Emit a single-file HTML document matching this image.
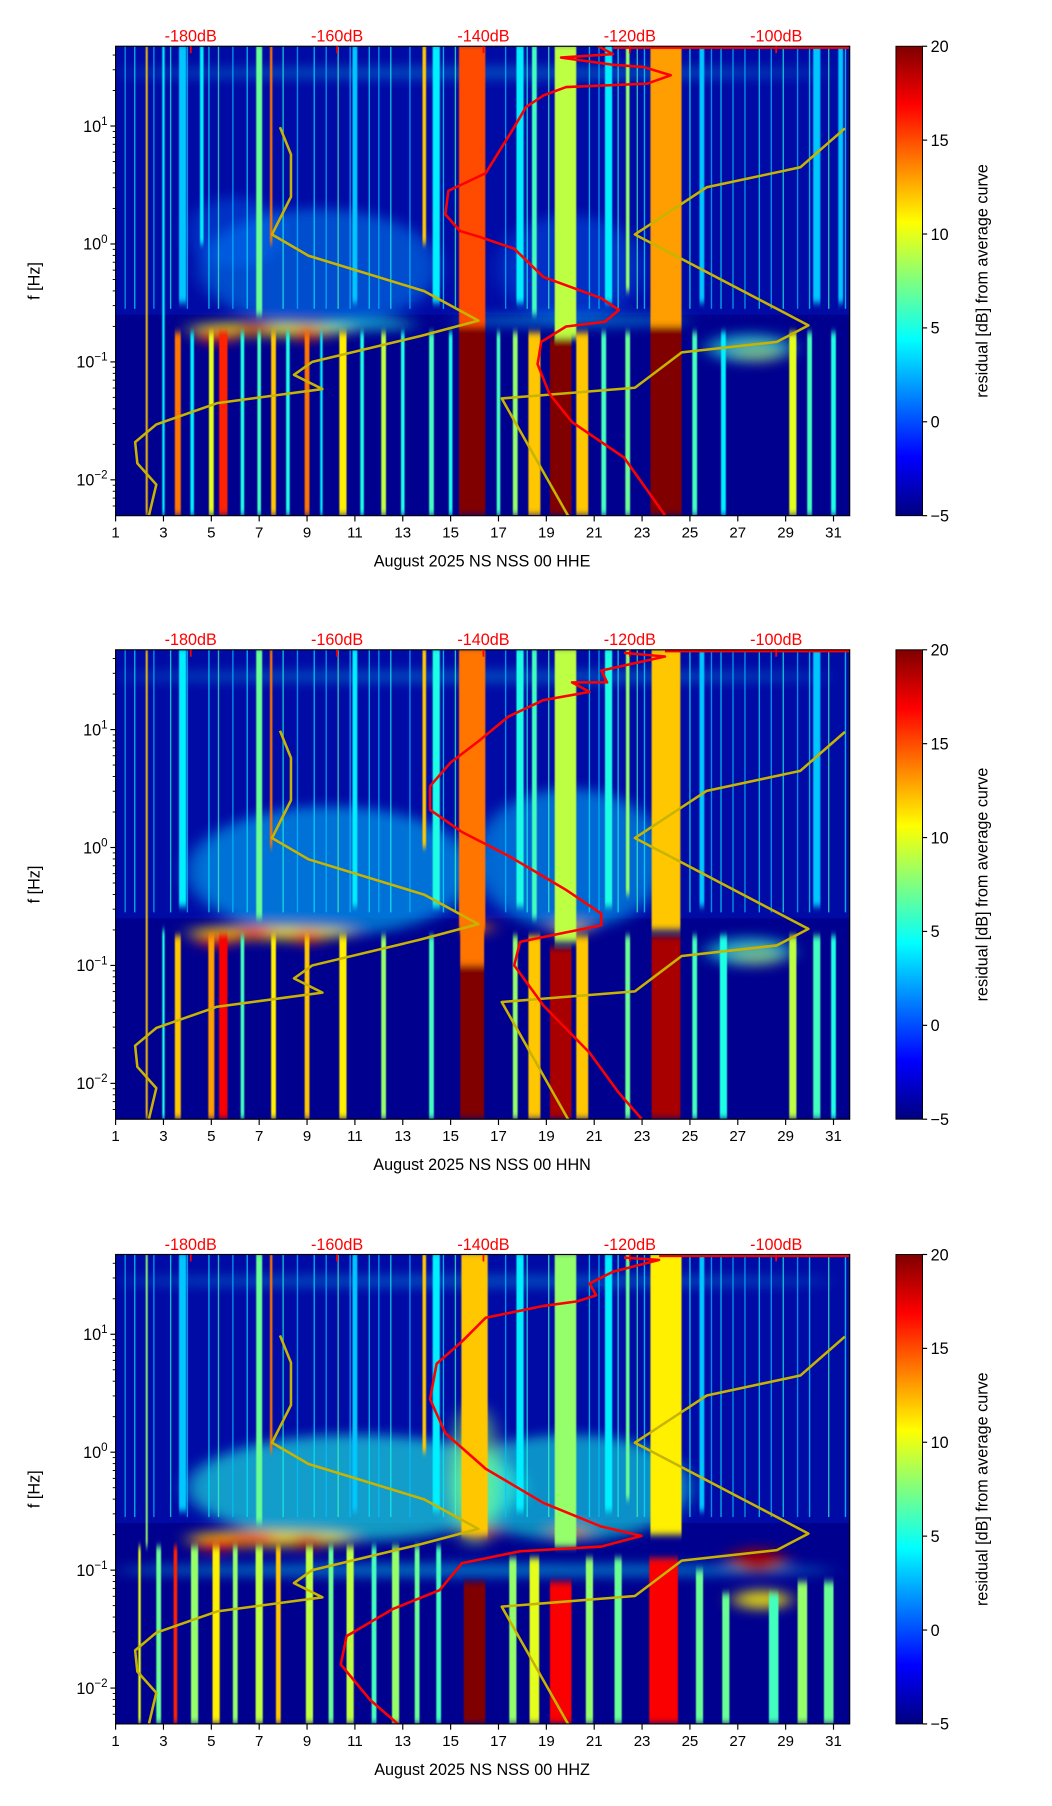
<!DOCTYPE html>
<html><head><meta charset="utf-8">
<style>
html,body{margin:0;padding:0;background:#fff;}
svg{display:block;font-family:"Liberation Sans","DejaVu Sans",sans-serif;}
</style></head>
<body>
<svg id="fig" xmlns="http://www.w3.org/2000/svg" width="1052" height="1806" viewBox="0 0 910 1562" preserveAspectRatio="none">
<defs>
<filter id="blurS" x="-20%" y="-20%" width="140%" height="140%"><feGaussianBlur stdDeviation="0.5 3"/></filter>
<filter id="blurB" x="-50%" y="-50%" width="200%" height="200%"><feGaussianBlur stdDeviation="8 5"/></filter>
<linearGradient id="jet" x1="0" y1="1" x2="0" y2="0">
<stop offset="0" stop-color="#00007f"/><stop offset="0.125" stop-color="#0000ff"/>
<stop offset="0.375" stop-color="#00ffff"/><stop offset="0.625" stop-color="#ffff00"/>
<stop offset="0.875" stop-color="#ff0000"/><stop offset="1" stop-color="#7f0000"/>
</linearGradient>
<clipPath id="c0"><rect x="100" y="40" width="635" height="406"/></clipPath>
<clipPath id="c1"><rect x="100" y="562" width="635" height="406"/></clipPath>
<clipPath id="c2"><rect x="100" y="1085" width="635" height="406"/></clipPath>
</defs>
</svg>
<script>
// ---- data ----
const panelTops = [40, 562, 1085];
const channelNames = ["HHE", "HHN", "HHZ"];
const dayTicks = [1,3,5,7,9,11,13,15,17,19,21,23,25,27,29,31];
const dbTicks = [-180,-160,-140,-120,-100];
const cbTicks = [20,15,10,5,0,-5];
const yMajor = [1,0,-1,-2];
// thin broadband lines in upper band (day, residual)
const thinLineDays = [1.4,1.8,2.6,3.3,4.0,4.9,5.3,5.9,6.5,8.0,8.6,9.3,9.8,10.3,10.8,11.6,12.0,12.5,13.3,14.7,15.2,17.3,18.2,19.1,20.8,21.2,22.0,22.8,23.1,25.0,25.9,26.3,26.8,27.3,27.9,28.4,28.9,29.5,30.0,30.8,31.5];
const thinLineVals = [3,4,3,5,3,4,6,3,4,5,3,4,3,6,3,4,3,5,3,4,6,3,5,6,4,3,5,6,4,5,3,4,3,3,4,3,5,3,4,6,4];
// Noise models (dB, log10 f)
const nlnmDb = [-167.8,-166.3,-166.3,-168.9,-163.9,-148.1,-140.7,-148.6,-163.4,-165.9,-162.0,-176.4,-184.7,-187.6,-187.3,-184.7,-185.7];
const nlnmLogF = [0.99,0.76,0.40,0.08,-0.10,-0.40,-0.65,-0.78,-1.00,-1.11,-1.23,-1.35,-1.53,-1.68,-1.86,-2.04,-2.30];
const nhnmDb = [-90.6,-96.7,-109.5,-119.3,-95.6,-99.9,-112.9,-119.3,-137.5,-128.2];
const nhnmLogF = [0.98,0.65,0.48,0.08,-0.69,-0.83,-0.92,-1.22,-1.31,-2.33];
// Average PSD curves per channel
const psdDbE = [-124.4,-122.3,-129.4,-122.3,-118.1,-114.4,-117.6,-128.7,-131.8,-134.2,-135.8,-137.8,-139.7,-144.8,-145.2,-143.2,-140.5,-135.8,-131.8,-123.9,-121.5,-123.4,-128.7,-132.1,-132.6,-131.0,-127.9,-120.8,-115.2];
const psdLogFE = [1.68,1.61,1.58,1.52,1.50,1.43,1.36,1.33,1.26,1.16,0.99,0.79,0.60,0.45,0.25,0.11,0.06,-0.04,-0.28,-0.46,-0.56,-0.66,-0.70,-0.83,-1.02,-1.27,-1.51,-1.81,-2.30];
const psdDbN = [-120.8,-115.2,-123.9,-123.1,-127.9,-125.5,-131.8,-136.6,-140.5,-144.5,-147.3,-147.3,-142.9,-136.6,-128.7,-123.9,-123.9,-128.7,-135.0,-135.8,-131.8,-125.5,-121.5,-118.4];
const psdLogFN = [1.65,1.62,1.50,1.40,1.40,1.32,1.25,1.11,0.91,0.72,0.52,0.32,0.13,-0.07,-0.36,-0.56,-0.66,-0.72,-0.80,-1.00,-1.34,-1.74,-2.08,-2.30];
const psdDbZ = [-120.8,-116.0,-122.3,-125.5,-124.6,-127.1,-131.8,-139.7,-142.9,-146.4,-147.3,-145.2,-139.7,-131.8,-123.9,-118.4,-123.9,-135.0,-142.9,-146.0,-152.4,-158.7,-159.5,-155.5,-151.6];
const psdLogFZ = [1.65,1.63,1.53,1.43,1.33,1.28,1.24,1.14,0.94,0.75,0.45,0.16,-0.14,-0.43,-0.63,-0.71,-0.80,-0.84,-0.94,-1.17,-1.33,-1.56,-1.80,-2.10,-2.31];
// Spectrogram stripes: [day, widthDays, logF low, logF high, residual dB]
const stripesE = [[3.6,.25,-2.3,-.75,14],[4.2,.15,-2.3,-.75,4],[5.0,.2,-2.3,-.75,10],[5.5,.35,-2.3,-.75,16],[6.3,.15,-2.3,-.75,5],[7.0,.15,-2.3,-.75,6],[7.6,.2,-2.3,-.75,12],[8.2,.15,-2.3,-.75,5],[9.0,.2,-2.3,-.75,14],[9.6,.1,-2.3,-.75,4],[10.5,.3,-2.3,-.75,11],[11.3,.15,-2.3,-.75,5],[12.2,.2,-2.3,-.75,9],[13.0,.15,-2.3,-.75,5],[14.2,.2,-2.3,-.75,6],[15.0,.15,-2.3,-.75,5],[15.9,1.1,-2.3,-.7,22],[17.0,.15,-2.3,-.75,6],[17.7,.2,-2.3,-.75,8],[18.5,.5,-2.3,-.75,12],[19.6,.9,-2.3,-.8,20],[20.5,.5,-2.3,-.75,12],[21.4,.2,-2.3,-.75,6],[22.4,.2,-2.3,-.75,7],[24.0,1.3,-2.3,-.7,21],[25.2,.2,-2.3,-.75,6],[26.4,.2,-2.3,-.75,4],[29.3,.3,-2.3,-.75,10],[30.0,.2,-2.3,-.75,6],[31.0,.2,-2.3,-.75,5],[2.3,.08,-2.3,1.7,12],[3.0,.1,-2.3,1.7,4],
[15.9,1.1,-.7,1.7,15],[19.8,.9,-.8,1.7,9],[24.0,1.3,-.7,1.7,13],[7.0,.25,-.6,1.7,7],[7.5,.1,0,1.7,14],[3.8,.3,-.5,1.7,3],[4.6,.15,0,1.7,4],[11.0,.2,-.5,1.7,3],[13.9,.15,0,1.7,12],[14.4,.3,-.5,1.7,4],[17.9,.3,-.5,1.7,4],[18.5,.2,-.6,1.7,6],[21.6,.3,-.5,1.7,4],[22.4,.15,-.4,1.7,8],[25.5,.2,-.5,1.7,3],[30.3,.3,-.5,1.7,3],[31.3,.2,-.5,1.7,3]];
const stripesN = [[3.6,.25,-2.3,-.75,12],[5.0,.25,-2.3,-.75,13],[5.5,.35,-2.3,-.75,17],[6.3,.15,-2.3,-.75,6],[7.6,.2,-2.3,-.75,11],[9.0,.2,-2.3,-.75,12],[10.5,.3,-2.3,-.75,11],[12.2,.2,-2.3,-.75,8],[14.2,.2,-2.3,-.75,6],[15.9,1.0,-2.3,-1.0,22],[15.9,1.0,-1.0,-.7,14],[17.7,.2,-2.3,-.75,8],[18.5,.5,-2.3,-.75,12],[19.6,.9,-2.3,-.85,19],[20.5,.5,-2.3,-.75,12],[22.4,.2,-2.3,-.75,7],[24.0,1.2,-2.3,-.75,19],[25.2,.2,-2.3,-.75,6],[26.4,.3,-2.3,-.75,5],[29.3,.3,-2.3,-.75,9],[30.3,.3,-2.3,-.75,6],[31.0,.2,-2.3,-.75,5],[2.3,.08,-2.3,1.7,12],[3.0,.1,-2.3,-.7,5],
[15.9,1.1,-.7,1.7,14],[19.8,.9,-.8,1.7,9],[24.0,1.2,-.7,1.7,12],[7.0,.25,-.6,1.7,7],[7.5,.1,0,1.7,14],[3.8,.3,-.5,1.7,4],[11.0,.2,-.5,1.7,4],[13.9,.15,0,1.7,12],[14.4,.3,-.5,1.7,5],[17.9,.3,-.5,1.7,5],[18.5,.2,-.6,1.7,6],[21.6,.3,-.5,1.7,5],[22.4,.15,-.4,1.7,8],[25.5,.2,-.5,1.7,3],[30.3,.3,-.5,1.7,3]];
const stripesZ = [[2.0,.1,-2.3,-.8,10],[2.8,.2,-2.3,-.8,7],[3.5,.15,-2.3,-.8,16],[4.3,.3,-2.3,-.8,8],[5.2,.3,-2.3,-.8,11],[6.0,.2,-2.3,-.8,8],[7.0,.3,-2.3,-.8,9],[7.8,.2,-2.3,-.8,12],[9.1,.3,-2.3,-.8,9],[10.0,.2,-2.3,-.8,7],[10.8,.3,-2.3,-.8,9],[11.8,.2,-2.3,-.8,6],[12.7,.3,-2.3,-.8,8],[13.6,.2,-2.3,-.8,7],[14.5,.2,-2.3,-.8,6],[16.0,.9,-2.3,-1.1,20],[17.6,.3,-2.3,-.9,8],[18.5,.4,-2.3,-.9,10],[19.6,.9,-2.3,-1.1,17],[20.8,.3,-2.3,-.9,8],[22.0,.3,-2.3,-.9,7],[23.9,1.2,-2.3,-.9,17],[25.4,.3,-2.3,-1.0,7],[26.5,.3,-2.3,-1.2,7],[28.5,.4,-2.3,-1.2,6],[29.7,.4,-2.3,-1.1,8],[30.8,.4,-2.3,-1.1,7],[2.3,.08,-.8,1.7,8],
[16.0,1.1,-.7,1.7,12],[19.8,.9,-.8,1.7,8],[24.0,1.3,-.7,1.7,11],[7.0,.25,-.6,1.7,7],[7.5,.1,0,1.7,14],[3.8,.3,-.5,1.7,3],[11.0,.2,-.5,1.7,3],[13.9,.15,0,1.7,12],[14.4,.3,-.5,1.7,4],[17.9,.3,-.5,1.7,4],[21.6,.3,-.5,1.7,4],[22.4,.15,-.4,1.7,7],[25.5,.2,-.5,1.7,3]];
// Diffuse patches: [day, logF, rxDays, ryDecades, residual dB, opacity]
const blobsE = [[9.5,-.2,5,.5,2,.45],[20,-.2,3,.45,1,.35],[6,.1,2,.3,1,.35],[7.5,-.72,3.5,.06,10,.85],[5.2,-.78,.8,.06,16,.9],[6.8,-.72,.8,.05,18,.9],[9.0,-.76,.6,.06,17,.9],[11.5,-.68,2,.05,5,.6],[27.8,-.92,1.1,.08,15,.9],[27.5,-.88,1.8,.12,5,.6],[20,-.65,5,.05,3,.5],[16,1.45,15,.04,4,.35]];
const blobsN = [[10,-.2,6,.55,3,.55],[20,-.1,4,.6,3,.5],[7.5,-.72,3.5,.06,11,.85],[5.2,-.78,.8,.06,16,.9],[6.8,-.72,.8,.05,17,.9],[9.0,-.76,.6,.06,16,.9],[16.2,-.68,.5,.05,14,.8],[20,-.68,.8,.05,12,.8],[27.8,-.92,1.1,.08,15,.9],[27.5,-.88,1.8,.12,5,.6],[16,1.45,15,.04,4,.35]];
const blobsZ = [[11,-.3,7,.45,5,.6],[20,-.3,5,.45,5,.55],[16,-.2,1,.6,8,.6],[7.5,-.73,3.5,.07,11,.85],[5.2,-.78,.9,.06,17,.9],[6.8,-.73,1.0,.05,17,.9],[9.0,-.76,.7,.06,18,.9],[16.3,-.68,.6,.05,15,.8],[20,-.68,.8,.05,14,.8],[16,-1.0,15,.05,4,.5],[27.8,-.92,1.2,.1,19,.95],[28,-1.25,1.2,.08,11,.85],[16,1.45,15,.04,4,.35]];
const stripeSets = [stripesE, stripesN, stripesZ];
const blobSets = [blobsE, blobsN, blobsZ];
const psdDbSets = [psdDbE, psdDbN, psdDbZ];
const psdLogFSets = [psdLogFE, psdLogFN, psdLogFZ];

// ---- helpers ----
const NS = "http://www.w3.org/2000/svg";
const svg = document.getElementById("fig");
const X0 = 100, X1 = 735, PX_DAY = 20.7;
const xDay = d => X0 + (d - 1) * PX_DAY;
const xDb = db => 165 + (db + 180) * 6.33;
const yF = (top, lf) => top + 69 + (1 - lf) * 102;
function jet(v) {
  const t = Math.max(0, Math.min(1, (v + 5) / 25));
  const c = a => Math.round(255 * Math.max(0, Math.min(1, 1.5 - Math.abs(4 * t - a))));
  return `rgb(${c(3)},${c(2)},${c(1)})`;
}
function mk(tag, attrs, parent) {
  const e = document.createElementNS(NS, tag);
  for (const k in attrs) e.setAttribute(k, attrs[k]);
  parent.appendChild(e);
  return e;
}

panelTops.forEach((top, p) => {
  const g = mk("g", {}, svg);
  
  
  const plot = mk("g", {"clip-path": `url(#c${p})`}, g);
  const bg = mk("rect", {x: X0, y: top, width: X1 - X0, height: 406, fill: "#00008f"}, plot);
  
  
  // speckled upper band tint
  const tint = mk("rect", {x: X0, y: top, width: X1 - X0, height: yF(top, -0.6) - top, fill: "#0020d0", opacity: 0.35}, plot);
  
  
  // blobs
  const bl = mk("g", {filter: "url(#blurB)"}, plot);
  blobSets[p].forEach(b => {
    const e = mk("ellipse", {cx: xDay(b[0]), cy: yF(top, b[1]), rx: b[2] * PX_DAY, ry: b[3] * 102, fill: jet(b[4]), opacity: b[5]}, bl);
    
    
  });
  // thin lines
  const tlg = mk("g", {opacity: 0.7}, plot);
  thinLineDays.forEach((d, i) => {
    const r = mk("rect", {x: xDay(d) - 0.6, y: top, width: 1.2, height: yF(top, -0.55) - top, fill: jet(thinLineVals[i])}, tlg);
    
    
  });
  // stripes
  const st = mk("g", {filter: "url(#blurS)"}, plot);
  stripeSets[p].forEach(s => {
    const r = mk("rect", {x: xDay(s[0]) - s[1] * PX_DAY / 2, y: yF(top, s[3]), width: Math.max(1, s[1] * PX_DAY), height: yF(top, s[2]) - yF(top, s[3]), fill: jet(s[4])}, st);
    
    
  });
  // noise models
  [[nlnmDb, nlnmLogF, 'nlnm-curve'], [nhnmDb, nhnmLogF, 'nhnm-curve']].forEach(m => {
    const pts = m[0].map((d, i) => xDb(d).toFixed(1) + "," + yF(top, m[1][i]).toFixed(1)).join(" ");
    const l = mk("polyline", {points: pts, fill: "none", stroke: "#c8b400", "stroke-width": 2.2, "stroke-linejoin": "round"}, plot);
    
    
  });
  // PSD curve
  const pp = psdDbSets[p].map((d, i) => xDb(d).toFixed(1) + "," + yF(top, psdLogFSets[p][i]).toFixed(1)).join(" ");
  const pl = mk("polyline", {points: pp, fill: "none", stroke: "#ff0000", "stroke-width": 2.2, "stroke-linejoin": "round"}, plot);
  
  
  const tl = mk("line", {x1: xDb(psdDbSets[p][1]), y1: top + 1, x2: X1, y2: top + 1, stroke: "#ff0000", "stroke-width": 2.5}, plot);
  
  
  // frame
  const fr = mk("rect", {x: X0, y: top, width: X1 - X0, height: 406, fill: "none", stroke: "#000", "stroke-width": 1}, g);
  
  
  // x ticks
  dayTicks.forEach(d => {
    mk("line", {x1: xDay(d), y1: top + 406, x2: xDay(d), y2: top + 411, stroke: "#000"}, g);
    const t = mk("text", {x: xDay(d), y: top + 425, "font-size": 13, "text-anchor": "middle"}, g);
    t.textContent = d;
    
    
  });
  const xl = mk("text", {x: 417, y: top + 450, "font-size": 14, "text-anchor": "middle"}, g);
  xl.textContent = "August 2025 NS NSS 00 " + channelNames[p];
  
  
  // y ticks
  for (let dec = -3; dec <= 1; dec++) for (let k = 2; k <= 9; k++) {
    const lf = dec + Math.log10(k);
    if (lf < -2.3 || lf > 1.676) continue;
    mk("line", {x1: X0 - 2.5, y1: yF(top, lf), x2: X0, y2: yF(top, lf), stroke: "#000", "stroke-width": 0.8}, g);
  }
  yMajor.forEach(lf => {
    mk("line", {x1: X0 - 4.5, y1: yF(top, lf), x2: X0, y2: yF(top, lf), stroke: "#000"}, g);
    const t = mk("text", {x: X0 - 7, y: yF(top, lf) + 5, "font-size": 14, "text-anchor": "end"}, g);
    const a = mk("tspan", {}, t);
    a.textContent = "10";
    const s = mk("tspan", {dy: -6, "font-size": 10}, t);
    s.textContent = lf < 0 ? "\u2212" + (-lf) : String(lf);
    
    
  });
  const yl = mk("text", {x: 0, y: 0, "font-size": 14, "text-anchor": "middle", transform: `translate(34,${top + 203}) rotate(-90)`}, g);
  yl.textContent = "f [Hz]";
  
  
  // top dB axis
  dbTicks.forEach(db => {
    mk("line", {x1: xDb(db), y1: top, x2: xDb(db), y2: top + 6, stroke: "#ff0000", "stroke-width": 1.5}, g);
    const t = mk("text", {x: xDb(db), y: top - 4, "font-size": 14, fill: "#ff0000", "text-anchor": "middle"}, g);
    t.textContent = db + "dB";
    
    
  });
  // colorbar
  const cb = mk("rect", {x: 775, y: top, width: 23, height: 406, fill: "url(#jet)", stroke: "#000", "stroke-width": 0.8}, g);
  
  
  cbTicks.forEach(v => {
    const y = top + (20 - v) / 25 * 406;
    mk("line", {x1: 798, y1: y, x2: 802, y2: y, stroke: "#000"}, g);
    const t = mk("text", {x: 805, y: y + 5, "font-size": 14}, g);
    t.textContent = v < 0 ? "\u2212" + (-v) : v;
    
    
  });
  const cl = mk("text", {x: 0, y: 0, "font-size": 14, "text-anchor": "middle", transform: `translate(854,${top + 203}) rotate(-90)`}, g);
  cl.textContent = "residual [dB] from average curve";
  
  
});
</script>
</body></html>
